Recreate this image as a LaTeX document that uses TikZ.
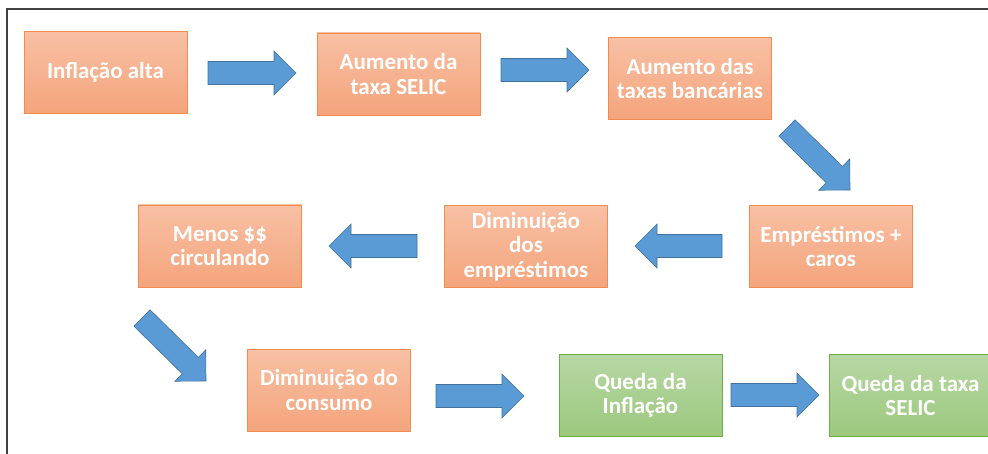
\documentclass[tikz,border=0pt]{standalone}
\usepackage{fontspec}
\setmainfont{Carlito}
\usetikzlibrary{calc}
\definecolor{orTop}{RGB}{248,192,164}
\definecolor{orBot}{RGB}{244,164,124}
\definecolor{orLine}{RGB}{241,140,80}
\definecolor{grTop}{RGB}{183,215,164}
\definecolor{grBot}{RGB}{155,200,125}
\definecolor{grLine}{RGB}{112,173,71}
\definecolor{arFill}{RGB}{91,155,213}
\definecolor{arLine}{RGB}{65,113,156}
\definecolor{frameC}{RGB}{64,64,64}
\newcommand\blockarrow[2]{%
  \path ($(#2)!22pt!(#1)$) coordinate (hb);
  \draw[blk] ($(#1)!11.5pt!90:(#2)$) -- ($(hb)!11.5pt!90:(#2)$) -- ($(hb)!22pt!90:(#2)$)
    -- (#2) -- ($(hb)!22pt!-90:(#2)$) -- ($(hb)!11.5pt!-90:(#2)$) -- ($(#1)!11.5pt!-90:(#2)$) -- cycle;}
\begin{document}
\begin{tikzpicture}[x=1pt,y=-1pt,
  box/.style={draw=orLine, line width=0.8pt, top color=orTop, bottom color=orBot,
    minimum width=163pt, minimum height=82pt, inner sep=0pt, align=center, text=white,
    font=\bfseries\fontsize{23}{24.5}\selectfont},
  gbox/.style={box, draw=grLine, top color=grTop, bottom color=grBot},
  blk/.style={draw=arLine, fill=arFill, line width=0.6pt, line join=miter}]
\useasboundingbox (0,0) rectangle (988,454);
\draw[frameC, line width=2pt] (988,9.5) -- (7,9.5) -- (7,454);

\node[box] (n1) at (105.5,72.5) {Inflação alta};
\node[box] (n2) at (398.5,74) {Aumento da\\taxa SELIC};
\node[box] (n3) at (690,78.5) {Aumento das\\taxas bancárias};
\node[box] (n4) at (831,246.5) {Empréstimos +\\caros};
\node[box] (n5) at (526,246.5) {Diminuição\\dos\\empréstimos};
\node[box] (n6) at (220,246) {Menos \$\$\\circulando};
\node[box] (n7) at (329,390) {Diminuição do\\consumo};
\node[gbox] (n8) at (640.5,395.5) {Queda da\\Inflação};
\node[gbox] (n9) at (910.5,395.5) {Queda da taxa\\SELIC};

\coordinate (a1t) at (208,73);  \coordinate (a1h) at (296,73);
\coordinate (a2t) at (501,70);  \coordinate (a2h) at (589,70);
\coordinate (a3t) at (787,128); \coordinate (a3h) at (850,190);
\coordinate (a4t) at (722,246); \coordinate (a4h) at (635,246);
\coordinate (a5t) at (417,246); \coordinate (a5h) at (329,246);
\coordinate (a6t) at (142,318); \coordinate (a6h) at (206,381);
\coordinate (a7t) at (436,396); \coordinate (a7h) at (524,396);
\coordinate (a8t) at (731,395); \coordinate (a8h) at (819,395);
\blockarrow{a1t}{a1h}
\blockarrow{a2t}{a2h}
\blockarrow{a3t}{a3h}
\blockarrow{a4t}{a4h}
\blockarrow{a5t}{a5h}
\blockarrow{a6t}{a6h}
\blockarrow{a7t}{a7h}
\blockarrow{a8t}{a8h}
\end{tikzpicture}
\end{document}
